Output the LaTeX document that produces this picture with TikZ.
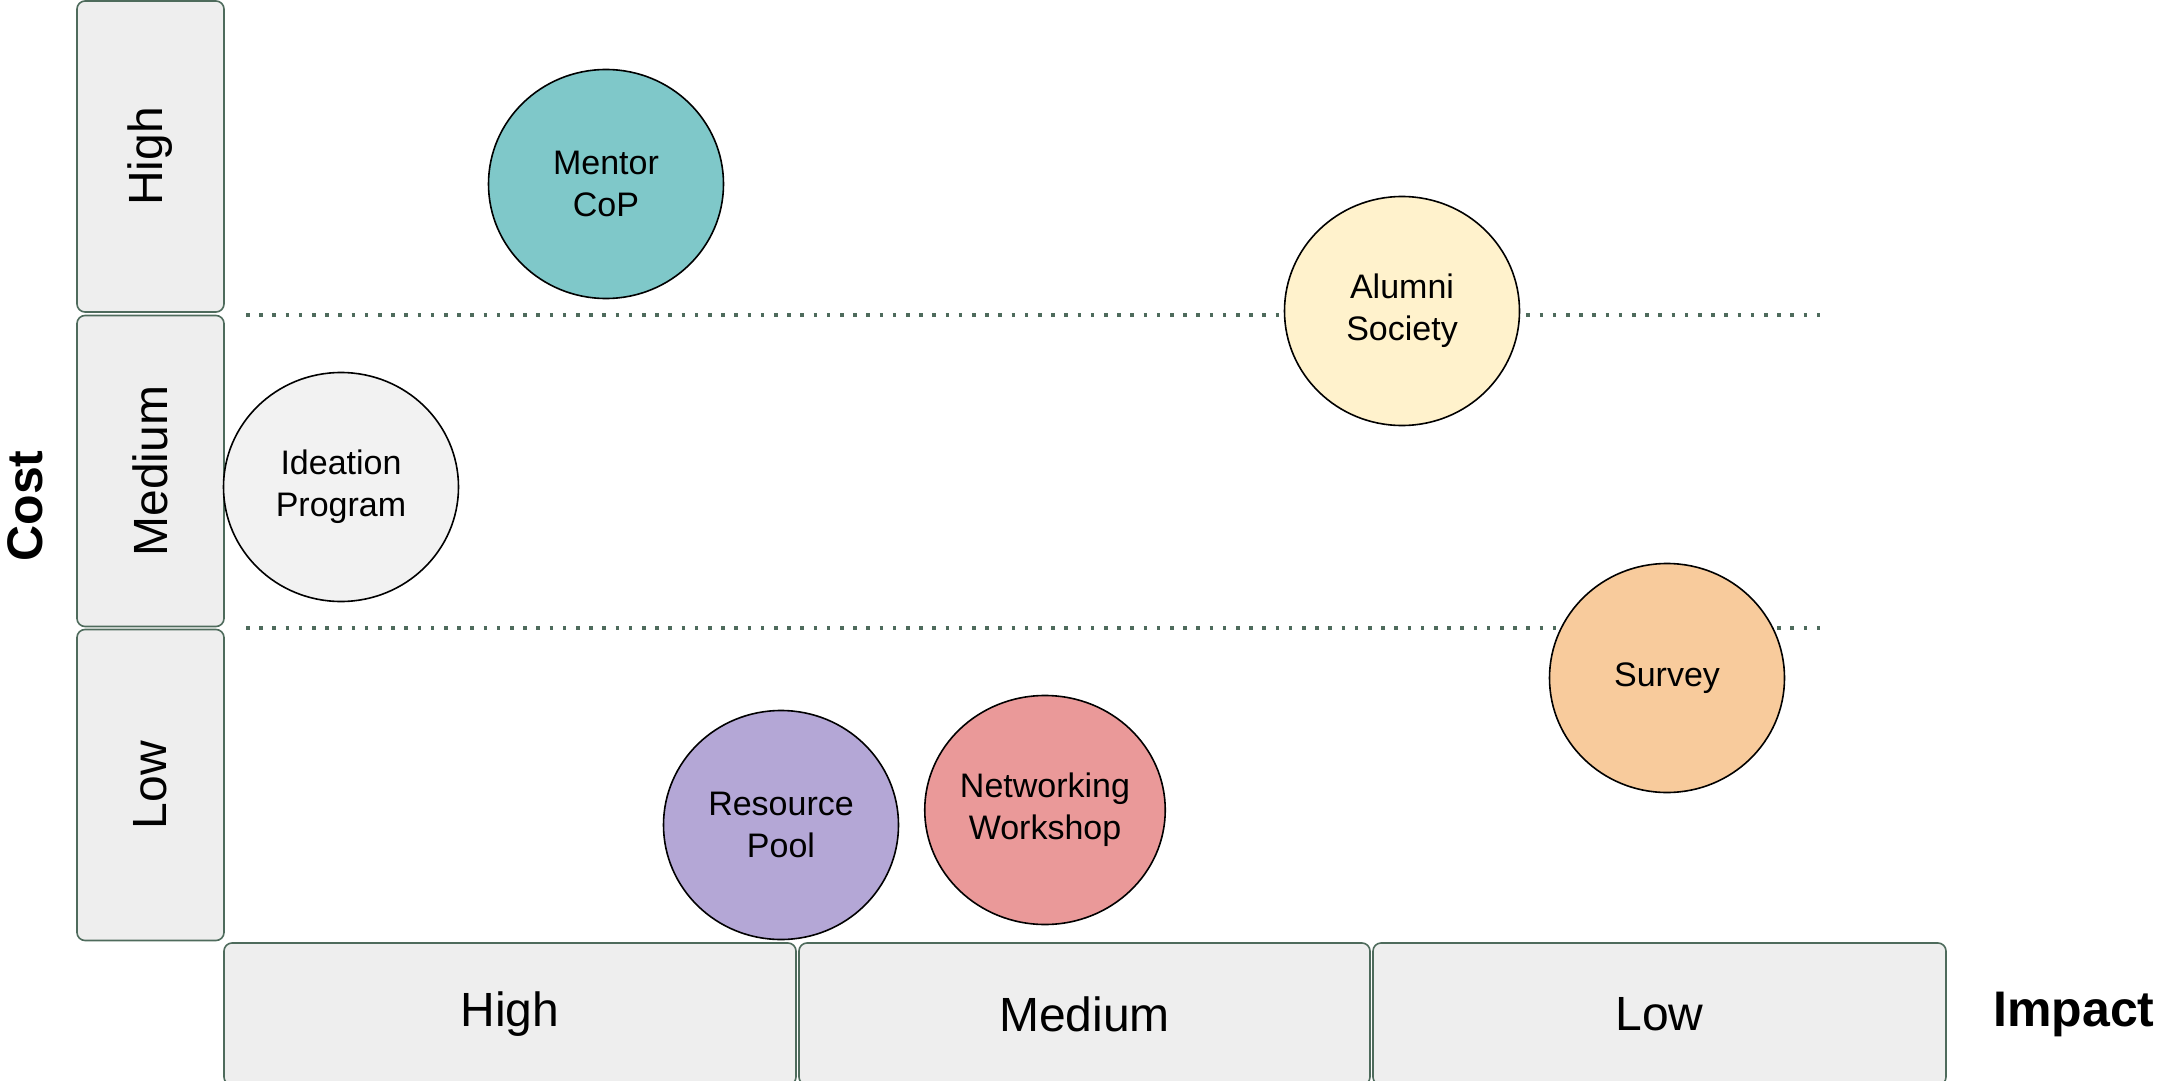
\documentclass[tikz,border=0pt]{standalone}
\usepackage{fontspec}
\setmainfont{Liberation Sans}
\usetikzlibrary{shapes.geometric}
\definecolor{boxedge}{HTML}{4E6B5C}
\definecolor{boxfill}{HTML}{EEEEEE}
\definecolor{dotcol}{HTML}{4E6B5C}
\definecolor{cmentor}{HTML}{7FC8C9}
\definecolor{calumni}{HTML}{FFF2CC}
\definecolor{cideation}{HTML}{F2F2F2}
\definecolor{csurvey}{HTML}{F8CB9C}
\definecolor{cresource}{HTML}{B4A7D6}
\definecolor{cnetwork}{HTML}{EA9999}
\begin{document}
\begin{tikzpicture}[x=1pt,y=-1pt,
 axisbox/.style={draw=boxedge,fill=boxfill,rounded corners=8pt,line width=1.6pt,inner sep=0pt,font=\fontsize{48}{56}\selectfont},
 item/.style={ellipse,draw=black,line width=1.6pt,minimum width=235pt,minimum height=229pt,inner sep=0pt,align=center,font=\fontsize{34}{42}\selectfont},
 gridline/.style={draw=dotcol,line width=3.5pt,dash pattern=on 3.5pt off 9.7pt},
 axislabel/.style={font=\bfseries\fontsize{50}{56}\selectfont}]
\useasboundingbox (0,0) rectangle (2164,1081);
% cost boxes
\node[axisbox,rotate=90,minimum width=311pt,minimum height=147pt] (cH) at (150.5,156.5) {High};
\node[axisbox,rotate=90,minimum width=311pt,minimum height=147pt] (cM) at (150.5,471) {Medium};
\node[axisbox,rotate=90,minimum width=311pt,minimum height=147pt] (cL) at (150.5,785) {Low};
% impact boxes
\node[axisbox,minimum width=572pt,minimum height=142pt] (iH) at (510,1014) {High};
\node[axisbox,minimum width=571pt,minimum height=142pt] (iM) at (1084.5,1014) {Medium};
\node[axisbox,minimum width=573pt,minimum height=142pt] (iL) at (1659.5,1014) {Low};
% axis labels
\node[axislabel,rotate=90] (cost) at (25,506) {Cost};
\node[axislabel] (impact) at (2074,1014) {Impact};
% dotted lines
\coordinate (g1a) at (246,315);
\coordinate (g1b) at (1820,315);
\coordinate (g2a) at (246,628);
\coordinate (g2b) at (1820,628);
\draw[gridline] (g1a) -- (g1b);
\draw[gridline] (g2a) -- (g2b);
% items
\node[item,fill=cmentor] (mentor) at (606,184) {Mentor\\CoP};
\node[item,fill=calumni] (alumni) at (1402,311) {Alumni\\Society};
\node[item,fill=cideation] (ideation) at (341,487) {Ideation\\Program};
\node[item,fill=csurvey] (survey) at (1667,678) {Survey};
\node[item,fill=cresource] (resource) at (781,825) {Resource\\Pool};
\node[item,fill=cnetwork] (network) at (1045,810) {Networking\\Workshop};
\end{tikzpicture}
\end{document}
